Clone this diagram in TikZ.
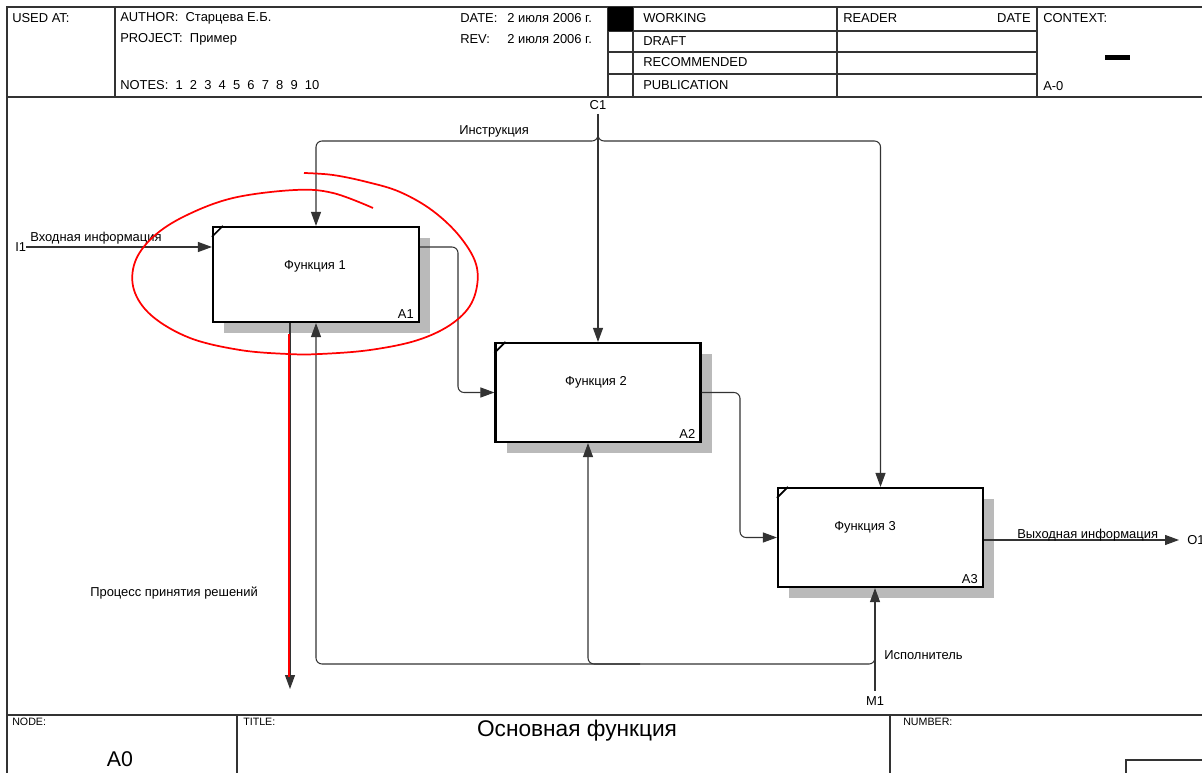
\documentclass[tikz,border=0pt]{standalone}
\usepackage{fontspec}
\setmainfont{Liberation Sans}
\usetikzlibrary{arrows.meta}
\begin{document}
\begin{tikzpicture}[x=0.75pt,y=-0.75pt,
  frame/.style={draw=black!80, line width=0.8pt},
  lbl/.style={font=\fontsize{9.7}{11}\selectfont, inner sep=0pt, anchor=west},
  sm/.style={font=\fontsize{8}{9}\selectfont, inner sep=0pt, anchor=west},
  ln/.style={draw=black!80, line width=0.8pt},
  arr/.style={ln, -{Triangle[length=10.5pt,width=7.5pt]}},
  rc/.style={rounded corners=4.5pt},
  fbox/.style={draw=black, line width=1.6pt, fill=white, inner sep=0pt, rectangle},
  shad/.style={fill=black!27},
  redmark/.style={draw=red, line width=1.3pt}]
\useasboundingbox (0,0) rectangle (1202,773);
\fill[white] (0,0) rectangle (1202,773);

% ---------- frame ----------
\draw[frame] (1202,7) -- (7,7) -- (7,773);
\draw[frame] (7,97) -- (1202,97);
\draw[frame] (115,7) -- (115,97);
\draw[frame] (608,7) -- (608,97);
\draw[frame] (633,7) -- (633,97);
\draw[frame] (837,7) -- (837,97);
\draw[frame] (1037,7) -- (1037,97);
\draw[frame] (608,31) -- (1037,31);
\draw[frame] (608,52) -- (1037,52);
\draw[frame] (608,74) -- (1037,74);
\fill[black] (608,7) rectangle (633,31);
\fill[black] (1105,55) rectangle (1130,60);

\node[lbl] (usedat) at (12,18) {USED AT:};
\node[lbl] (author) at (120,18) {AUTHOR:\ \ Старцева Е.Б.};
\node[lbl] (project) at (120,39) {PROJECT:\ \ Пример};
\node[lbl] (notes) at (120,85) {NOTES:\ \ 1\ \ 2\ \ 3\ \ 4\ \ 5\ \ 6\ \ 7\ \ 8\ \ 9\ \ 10};
\node[lbl] (date) at (460,18) {DATE:};
\node[lbl] (datev) at (507,18) {2 июля 2006 г.};
\node[lbl] (rev) at (460,39) {REV:};
\node[lbl] (revv) at (507,39) {2 июля 2006 г.};
\node[lbl] (working) at (643,18) {WORKING};
\node[lbl] (draft) at (643,41) {DRAFT};
\node[lbl] (recommended) at (643,62) {RECOMMENDED};
\node[lbl] (publication) at (643,85) {PUBLICATION};
\node[lbl] (reader) at (843,18) {READER};
\node[lbl, anchor=east] (rdate) at (1031,18) {DATE};
\node[lbl] (context) at (1043,18) {CONTEXT:};
\node[lbl] (aminus) at (1043,86) {A-0};

% bottom block
\draw[frame] (7,715) -- (1202,715);
\draw[frame] (237,715) -- (237,773);
\draw[frame] (890,715) -- (890,773);
\draw[frame] (1126,773) -- (1126,760) -- (1202,760);
\node[sm] (nodelbl) at (12,722) {NODE:};
\node[sm] (titlelbl) at (243,722) {TITLE:};
\node[sm] (numberlbl) at (903,722) {NUMBER:};
\node[font=\fontsize{16}{18}\selectfont, inner sep=0pt] (nodeval) at (120,759) {A0};
\node[font=\fontsize{17}{19}\selectfont, inner sep=0pt] (title) at (577,731) {Основная функция};

% ---------- boxes ----------
\fill[shad] (224,238) rectangle (430,333);
\fill[shad] (507,354) rectangle (712,453);
\fill[shad] (789,499) rectangle (994,598);

\node[fbox, minimum width=154.5pt, minimum height=71.25pt] (a1) at (316,274.5) {};
\node[fbox, minimum width=153.75pt, minimum height=74.25pt] (a2) at (598,392.5) {};
\node[fbox, minimum width=153.75pt, minimum height=74.25pt] (a3) at (880.5,537.5) {};

\foreach \b in {a1,a2,a3}{
  \draw[line width=1.2pt] ([shift={(0,11)}]\b.north west) -- ([shift={(11,0)}]\b.north west);
}
\node[lbl, anchor=center] (t1) at (315,266) {Функция 1};
\node[lbl, anchor=center] (t2) at (596,382) {Функция 2};
\node[lbl, anchor=center] (t3) at (865,527) {Функция 3};
\node[lbl, anchor=south east] (n1) at ([shift={(-6,-4)}]a1.south east) {A1};
\node[lbl, anchor=south east] (n2) at ([shift={(-6,-4)}]a2.south east) {A2};
\node[lbl, anchor=south east] (n3) at ([shift={(-6,-4)}]a3.south east) {A3};

% ---------- arrows ----------
% input
\node[lbl] (i1) at (15,247) {I1};
\draw[arr] (i1.east) -- (a1.west |- i1.east);
\node[lbl] (i1lab) at (30,238) {Входная информация};

% control
\node[lbl, anchor=center] (c1) at (598,105) {C1};
\draw[arr] ([yshift=-3pt]c1.south) -- (a2.north);
\coordinate (cj) at (598,128);
\coordinate (cl) at (316,141);
\coordinate (cr) at (880.5,141);
\draw[arr, rc] (cj) |- (cl) -- (a1.north);
\draw[arr, rc] (cj) |- (cr) -- (a3.north);
\node[lbl] (instr) at (459,131) {Инструкция};

% A1 -> A2
\coordinate (k1) at (458,320);
\draw[arr, rc] (a1.east |- i1.east) -| (k1) |- (a2.west);
% A2 -> A3
\coordinate (k2) at (740,460);
\draw[arr, rc] (a2.east) -| (k2) |- (a3.west);

% output
\node[lbl] (o1) at (1187,540) {O1};
\draw[arr] (a3.east |- o1.west) -- ([xshift=-6pt]o1.west);
\node[lbl] (o1lab) at (1017,535) {Выходная информация};

% mechanism
\node[lbl, anchor=center] (m1) at (875,701) {M1};
\draw[arr] ([yshift=4pt]m1.north) -- (m1.north |- a3.south);
\coordinate (mj) at (875,650);
\coordinate (mb) at (316,664);
\coordinate (mb2) at (640,664);
\draw[arr, rc] (mj) |- (mb) -- (a1.south);
\draw[arr, rc] (mb2) -| ([xshift=-7.5pt]a2.south);
\node[lbl] (ispol) at (884,655) {Исполнитель};

% decision output (red annotation)
\coordinate (rp) at (290,689);
\draw[arr] ([xshift=-19.5pt]a1.south) -- (rp);
\draw[red, line width=1.6pt] (289,334) -- (289,677);
\node[lbl] (proc) at (90,593) {Процесс принятия решений};

% red hand-drawn ellipse
\draw[redmark] plot[smooth, tension=0.6] coordinates {
  (304,173) (333,175) (367,182) (400,192) (433,211) (461,238) (477,268)
  (473,300) (453,323) (418,340) (370,350) (320,354) (288,354) (240,350)
  (190,338) (152,316) (134,290) (135,262) (153,237) (185,216) (233,198)
  (295,190) (333,193) (373,208)};
\end{tikzpicture}
\end{document}
